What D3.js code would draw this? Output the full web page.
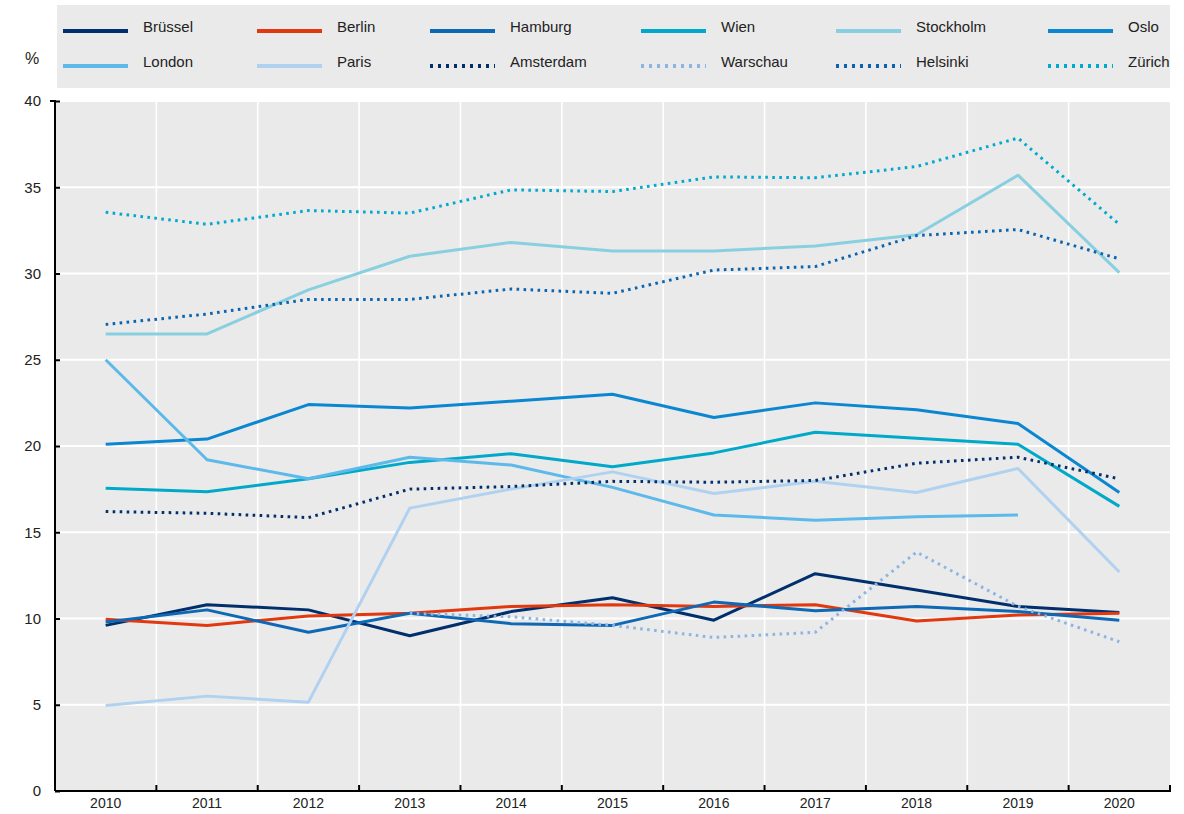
<!DOCTYPE html>
<html>
<head>
<meta charset="utf-8">
<script src="https://cdn.jsdelivr.net/npm/d3@7"></script>
<style>
  body { margin: 0; background: #fff; }
  svg text { font-family: "Liberation Sans", Arial, sans-serif; fill: #222; }
</style>
</head>
<body>
<div id="container"></div>
<script>
/* CONSTANTS AND GLOBALS */
const width = 1184;
const height = 814;
const plot = { left: 55, right: 1170, top: 101, bottom: 791 };

/* DATA */
const years = ["2010", "2011", "2012", "2013", "2014", "2015", "2016", "2017", "2018", "2019", "2020"];
const yTicks = [0, 5, 10, 15, 20, 25, 30, 35, 40];

const bruessel  = [9.6, 10.8, 10.5, 9.0, 10.4, 11.2, 9.9, 12.6, 11.65, 10.7, 10.35];
const berlin    = [9.95, 9.6, 10.15, 10.3, 10.7, 10.8, 10.7, 10.8, 9.85, 10.2, 10.3];
const hamburg   = [9.8, 10.5, 9.2, 10.3, 9.7, 9.6, 10.95, 10.45, 10.7, 10.4, 9.9];
const wien      = [17.55, 17.35, 18.1, 19.05, 19.55, 18.8, 19.6, 20.8, 20.45, 20.1, 16.5];
const stockholm = [26.5, 26.5, 29.05, 31.0, 31.8, 31.3, 31.3, 31.6, 32.25, 35.7, 30.05];
const oslo      = [20.1, 20.4, 22.4, 22.2, 22.6, 23.0, 21.65, 22.5, 22.1, 21.3, 17.3];
const london    = [25.0, 19.2, 18.1, 19.35, 18.9, 17.6, 16.0, 15.7, 15.9, 16.0, null];
const paris     = [4.95, 5.5, 5.15, 16.4, 17.5, 18.5, 17.25, 17.95, 17.3, 18.7, 12.7];
const amsterdam = [16.2, 16.1, 15.85, 17.5, 17.65, 17.95, 17.9, 18.0, 19.0, 19.35, 18.1];
const warschau  = [null, null, null, 10.3, 10.1, 9.6, 8.9, 9.2, 13.85, 10.7, 8.65];
const helsinki  = [27.05, 27.65, 28.5, 28.5, 29.1, 28.85, 30.2, 30.4, 32.2, 32.55, 30.85];
const zuerich   = [33.55, 32.85, 33.65, 33.5, 34.85, 34.75, 35.6, 35.55, 36.2, 37.85, 32.85];

const series = [
  { name: "Brüssel",   values: bruessel,  color: "#002f6c", dotted: false },
  { name: "Berlin",    values: berlin,    color: "#e2380f", dotted: false },
  { name: "Hamburg",   values: hamburg,   color: "#0e68b4", dotted: false },
  { name: "Wien",      values: wien,      color: "#00a9c9", dotted: false },
  { name: "Stockholm", values: stockholm, color: "#88d0e0", dotted: false },
  { name: "Oslo",      values: oslo,      color: "#0a87d0", dotted: false },
  { name: "London",    values: london,    color: "#5cb9e9", dotted: false },
  { name: "Paris",     values: paris,     color: "#b0d2f0", dotted: false },
  { name: "Amsterdam", values: amsterdam, color: "#002f6c", dotted: true },
  { name: "Warschau",  values: warschau,  color: "#8db4e2", dotted: true },
  { name: "Helsinki",  values: helsinki,  color: "#0b64b0", dotted: true },
  { name: "Zürich",    values: zuerich,   color: "#00a9ce", dotted: true }
];

/* SCALES */
const xScale = d3.scaleBand()
  .domain(years)
  .range([plot.left, plot.right]);

const yScale = d3.scaleLinear()
  .domain([0, 40])
  .range([plot.bottom, plot.top]);

/* HTML ELEMENTS */
const svg = d3.select("#container")
  .append("svg")
  .attr("width", width)
  .attr("height", height);

// legend box
svg.append("rect")
  .attr("x", 57).attr("y", 5)
  .attr("width", 1113).attr("height", 83)
  .attr("fill", "#eaeaea");

// plot background
svg.append("rect")
  .attr("x", plot.left).attr("y", plot.top)
  .attr("width", plot.right - plot.left).attr("height", plot.bottom - plot.top)
  .attr("fill", "#eaeaea");

// horizontal grid
svg.append("g")
  .selectAll("line")
  .data(yTicks.slice(1))
  .join("line")
  .attr("x1", plot.left).attr("x2", plot.right)
  .attr("y1", d => yScale(d)).attr("y2", d => yScale(d))
  .attr("stroke", "#fff")
  .attr("stroke-width", 2);

// vertical grid at band boundaries
svg.append("g")
  .selectAll("line")
  .data(years.slice(1))
  .join("line")
  .attr("x1", d => xScale(d)).attr("x2", d => xScale(d))
  .attr("y1", plot.top).attr("y2", plot.bottom)
  .attr("stroke", "#fff")
  .attr("stroke-width", 1.6);

// lines
const line = d3.line()
  .defined(d => d.v != null)
  .x(d => xScale(d.year) + xScale.bandwidth() / 2)
  .y(d => yScale(d.v));

svg.append("g")
  .selectAll("path")
  .data(series)
  .join("path")
  .attr("d", s => line(s.values.map((v, i) => ({ year: years[i], v: v }))))
  .attr("fill", "none")
  .attr("stroke", s => s.color)
  .attr("stroke-width", 3)
  .attr("stroke-linejoin", "round")
  .attr("stroke-dasharray", s => s.dotted ? "2.6,4.4" : null);

// y axis
const yAxis = d3.axisLeft(yScale)
  .tickValues(yTicks)
  .tickSize(-5)
  .tickPadding(14);

const gy = svg.append("g")
  .attr("transform", `translate(${plot.left},0)`)
  .call(yAxis);
gy.select(".domain").attr("stroke", "#000").attr("stroke-width", 2)
  .attr("d", `M-5,${plot.top}H0V${plot.bottom}`);
gy.selectAll(".tick line").attr("stroke", "#000").attr("stroke-width", 2);
gy.selectAll(".tick text")
  .style("font-size", "15px")
  .style("font-family", "Liberation Sans, Arial, sans-serif")
  .attr("fill", "#222");

// x axis
const xAxis = d3.axisBottom(xScale).tickSize(0).tickPadding(7);
const gx = svg.append("g")
  .attr("transform", `translate(0,${plot.bottom})`)
  .call(xAxis);
gx.select(".domain").attr("stroke", "#000").attr("stroke-width", 2)
  .attr("d", `M${plot.left},0H${plot.right}V-6`);
gx.selectAll(".tick text")
  .style("font-size", "14px")
  .style("font-family", "Liberation Sans, Arial, sans-serif")
  .attr("fill", "#222");

// x ticks at band boundaries
gx.append("g")
  .selectAll("line")
  .data(years.slice(1))
  .join("line")
  .attr("x1", d => xScale(d)).attr("x2", d => xScale(d))
  .attr("y1", 0).attr("y2", -6)
  .attr("stroke", "#000")
  .attr("stroke-width", 2);

// % label
svg.append("text")
  .attr("x", 32).attr("y", 60)
  .attr("text-anchor", "middle")
  .attr("dominant-baseline", "middle")
  .style("font-size", "16px")
  .text("%");

// legend
const legendCols = [63, 257, 430, 641, 836, 1048];
const legendRows = [31, 66];

const legendItem = svg.append("g")
  .selectAll("g")
  .data(series)
  .join("g")
  .attr("transform", (s, i) => `translate(${legendCols[i % 6]},${legendRows[Math.floor(i / 6)]})`);

legendItem.append("line")
  .attr("x1", 0).attr("x2", 65)
  .attr("stroke", s => s.color)
  .attr("stroke-width", 4)
  .attr("stroke-dasharray", s => s.dotted ? "3,5" : null);

legendItem.append("text")
  .attr("x", 80).attr("y", -3)
  .attr("dominant-baseline", "middle")
  .style("font-size", "15px")
  .text(s => s.name);
</script>
</body>
</html>
